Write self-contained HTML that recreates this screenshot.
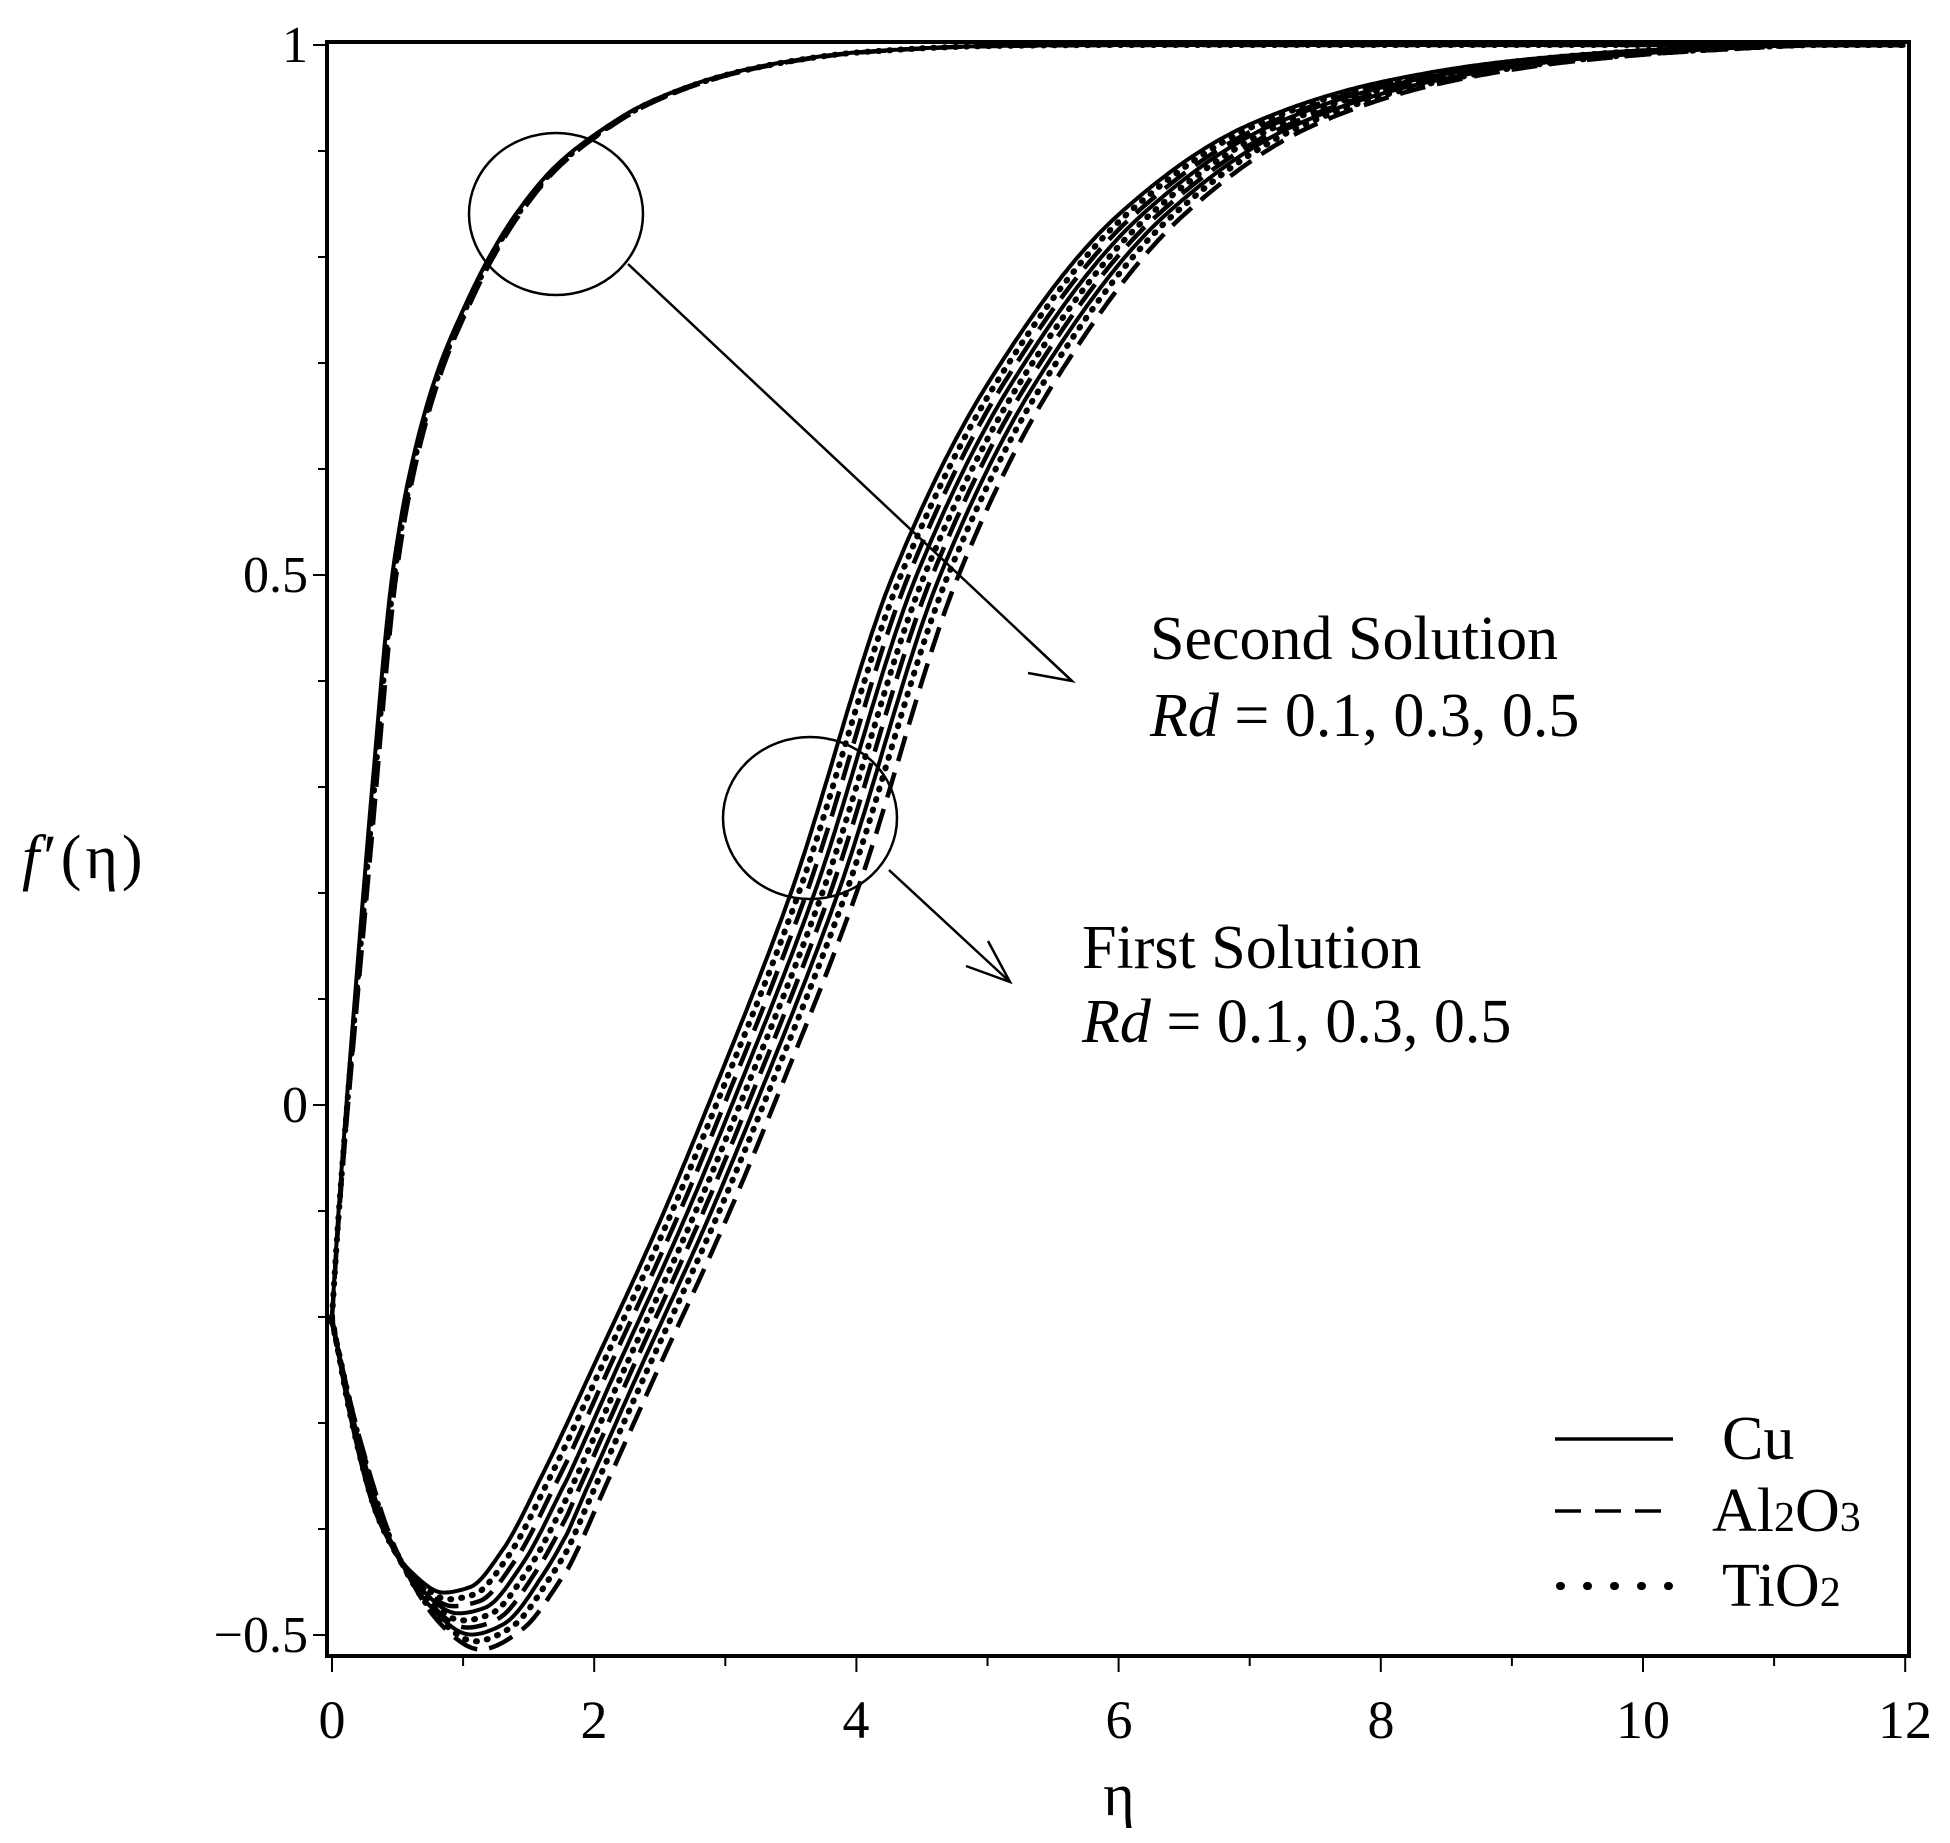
<!DOCTYPE html>
<html><head><meta charset="utf-8"><style>
html,body{margin:0;padding:0;background:#fff;}
svg{display:block;}
text{font-family:"Liberation Serif",serif;fill:#000;}
</style></head><body>
<svg id="s" width="1950" height="1843" viewBox="0 0 1950 1843" xmlns="http://www.w3.org/2000/svg">
<rect x="0" y="0" width="1950" height="1843" fill="#fff"/>
<g id="curves" fill="none" stroke="#000"></g>
<rect x="327" y="42" width="1582" height="1614" fill="none" stroke="#000" stroke-width="4"/>
<g id="ticks" stroke="#000" stroke-width="2"></g>
<g font-size="52" text-anchor="end">
<text x="308" y="62">1</text>
<text x="308" y="592">0.5</text>
<text x="308" y="1122">0</text>
<text x="308" y="1652">−0.5</text>
</g>
<g font-size="54" text-anchor="middle">
<text x="332" y="1738">0</text><text x="594" y="1738">2</text><text x="856" y="1738">4</text>
<text x="1119" y="1738">6</text><text x="1381" y="1738">8</text><text x="1643" y="1738">10</text><text x="1905" y="1738">12</text>
<text x="1119" y="1815" font-size="60">η</text>
</g>
<text x="22" y="878" font-size="62" letter-spacing="4"><tspan font-style="italic">f</tspan>′(η)</text>
<ellipse cx="556" cy="214" rx="87" ry="81" fill="none" stroke="#000" stroke-width="2.5"/>
<ellipse cx="810" cy="818" rx="87" ry="81" fill="none" stroke="#000" stroke-width="2.5"/>
<g stroke="#000" stroke-width="2.5" fill="none">
<line x1="628" y1="264" x2="1072" y2="681"/>
<polyline points="1024,636 1072,681 1028,673"/>
<line x1="889" y1="870" x2="1010" y2="982"/>
<polyline points="988,941 1010,982 966,966"/>
</g>
<g font-size="62">
<text x="1150" y="659">Second Solution</text>
<text x="1150" y="736"><tspan font-style="italic">Rd</tspan> = 0.1, 0.3, 0.5</text>
<text x="1082" y="968">First Solution</text>
<text x="1082" y="1042"><tspan font-style="italic">Rd</tspan> = 0.1, 0.3, 0.5</text>
</g>
<g stroke="#000" fill="none">
<line x1="1555" y1="1439" x2="1673" y2="1439" stroke-width="3.5"/>
<line x1="1555" y1="1511" x2="1673" y2="1511" stroke-width="3.5" stroke-dasharray="26,14"/>
<line x1="1560" y1="1586" x2="1670" y2="1586" stroke-width="8" stroke-dasharray="1,26" stroke-linecap="round"/>
</g>
<g font-size="62">
<text x="1722" y="1459">Cu</text>
<text x="1712" y="1531">Al<tspan font-size="42">2</tspan>O<tspan font-size="42">3</tspan></text>
<text x="1722" y="1606">TiO<tspan font-size="42">2</tspan></text>
</g>
</svg>
<script>
(function(){
var NS="http://www.w3.org/2000/svg";
function X(e){return 332+131.1*e;}
function Y(v){return 1105-1060*v;}
function mono(pts){
 var n=pts.length,xs=[],ys=[],d=[],m=[];
 for(var i=0;i<n;i++){xs.push(pts[i][0]);ys.push(pts[i][1]);}
 for(i=0;i<n-1;i++)d.push((ys[i+1]-ys[i])/(xs[i+1]-xs[i]));
 m[0]=d[0];m[n-1]=d[n-2];
 for(i=1;i<n-1;i++){
  if(d[i-1]*d[i]<=0)m[i]=0;
  else{var h0=xs[i]-xs[i-1],h1=xs[i+1]-xs[i];var w1=2*h1+h0,w2=h1+2*h0;m[i]=(w1+w2)/(w1/d[i-1]+w2/d[i]);}
 }
 return function(e){
  if(e<=xs[0])return ys[0];if(e>=xs[n-1])return ys[n-1];
  for(var i=0;i<n-1;i++)if(e<=xs[i+1]){
   var h=xs[i+1]-xs[i],t=(e-xs[i])/h,t2=t*t,t3=t2*t;
   return (2*t3-3*t2+1)*ys[i]+(t3-2*t2+t)*h*m[i]+(-2*t3+3*t2)*ys[i+1]+(t3-t2)*h*m[i+1];
  }
 };
}
var up=mono([[0,-0.2],[0.05,-0.1],[0.11,0],[0.2,0.14],[0.3,0.29],[0.46,0.5],[0.6,0.6],[0.8,0.69],[1.0,0.75],[1.2,0.80],[1.4,0.84],[1.7,0.885],[2.0,0.915],[2.4,0.945],[3,0.972],[3.5,0.985],[4,0.993],[5,0.999],[6,1],[12,1]]);
var lo=mono([[0,-0.2],[0.15,-0.3],[0.35,-0.39],[0.6,-0.44],[0.85,-0.46],[1.05,-0.455],[1.3,-0.42],[1.6,-0.35],[2,-0.245],[2.5,-0.11],[2.87,0],[3.5,0.2],[4.28,0.5],[5,0.68],[6,0.84],[7,0.925],[8,0.965],[9,0.985],[10,0.995],[11,1],[12,1]]);
var g=document.getElementById("curves");
var styles={s:{w:4,d:null,c:"butt"},d:{w:4.5,d:"26,12",c:"butt"},o:{w:6,d:"1,10",c:"round"}};
function add(fn,st){
 var d="";
 for(var e=0;e<=12.0001;e+=0.02){var v=fn(e);d+=(d?"L":"M")+X(e).toFixed(1)+","+Y(v).toFixed(1);}
 var p=document.createElementNS(NS,"path");
 p.setAttribute("d",d);var S=styles[st];
 p.setAttribute("stroke-width",S.w);
 if(S.d)p.setAttribute("stroke-dasharray",S.d);
 p.setAttribute("stroke-linecap",S.c);
 p.setAttribute("stroke-linejoin","round");
 g.appendChild(p);
}
var fam=[[0,"s"],[0.06,"o"],[0.12,"d"],[0.18,"s"],[0.24,"o"],[0.30,"d"],[0.36,"s"],[0.42,"o"],[0.5,"d"]];
fam.forEach(function(f){
 var s=f[0];
 add(function(e){
  var w=Math.min(1,e/1.8);
  var b=Math.exp(-Math.pow((e-1.05)/0.7,2));
  return lo(e-s*w)-s*0.11*b;
 },f[1]);
});
[[0,"s"],[0.03,"d"],[0.015,"o"]].forEach(function(f){
 var s=f[0];
 add(function(e){return up(e-s*Math.min(1,e/0.3));},f[1]);
});
var t=document.getElementById("ticks");
function ln(a,b,c,d){var l=document.createElementNS(NS,"line");l.setAttribute("x1",a);l.setAttribute("y1",b);l.setAttribute("x2",c);l.setAttribute("y2",d);t.appendChild(l);}
for(var i=-5;i<=10;i++){var y=Y(i/10);var major=(i%5==0);ln(major?313:318,y,327,y);}
for(var j=0;j<=12;j++){var x=X(j);ln(x,1656,x,(j%2==0)?1672:1666);}
})();
</script>
</body></html>
